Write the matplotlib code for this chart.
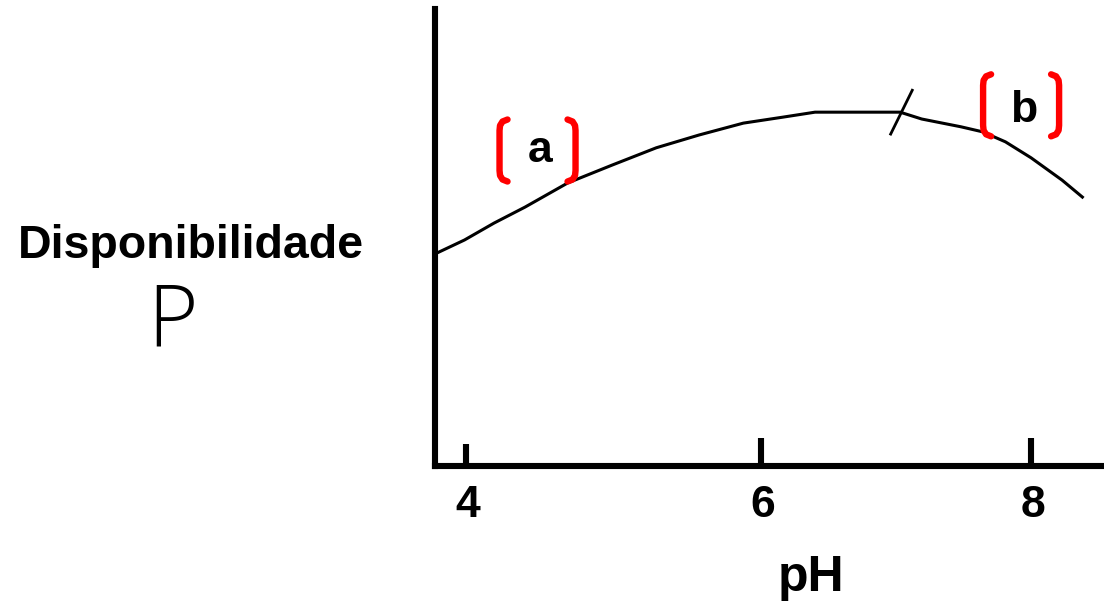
import numpy as np
import matplotlib
matplotlib.use("Agg")
import matplotlib.pyplot as plt
import matplotlib.transforms as mtransforms

# ==============================
# DATOS
# ==============================
ph = [3.80, 3.99, 4.19, 4.40, 4.69, 4.99, 5.29, 5.58, 5.88, 6.16, 6.40,
      7.03, 7.19, 7.48, 7.64, 7.81, 8.00, 8.23, 8.38]
disponibilidad = [46.5, 49.4, 53.1, 56.6, 61.9, 65.8, 69.6, 72.4, 75.0, 76.3, 77.4,
                  77.4, 75.9, 74.2, 73.1, 70.9, 67.4, 62.5, 58.8]

# marca de corte sobre la curva
corte_ph = [6.96, 7.12]
corte_disp = [72.6, 82.2]

# etiquetas entre paréntesis
etiquetas = ["a", "b"]
etiqueta_ph = [4.485, 7.926]
etiqueta_disp = [69.0, 78.9]

ticks_ph = [4, 6, 8]

# ==============================
# ESCALA X (dibujo a mano: los intervalos no son iguales)
# ==============================
knots_ph = [2, 4, 6, 8, 10]
knots_px = [-295, 0, 295, 565, 835]


def fwd(x):
    return np.interp(x, knots_ph, knots_px)


def inv(v):
    return np.interp(v, knots_px, knots_ph)


fig = plt.figure(figsize=(11.04, 6.02), dpi=100)
W, H = 1104, 602
ax = fig.add_axes([435 / W, 1 - 465.5 / H, (W - 435) / W, (465.5 - 9) / H])
ax.set_xscale("function", functions=(fwd, inv))
ax.set_xlim(3.79, 8.54)
ax.set_ylim(0, 100)

ax.plot(ph, disponibilidad, color="black", lw=2.2, solid_joinstyle="round")
ax.plot(corte_ph, corte_disp, color="black", lw=2.0)

for sp in ["top", "right"]:
    ax.spines[sp].set_visible(False)
for sp in ["left", "bottom"]:
    ax.spines[sp].set_linewidth(4.4)

ax.set_yticks([])
ax.set_xticks(ticks_ph)
ax.set_xticklabels([str(t) for t in ticks_ph])
ax.tick_params(axis="x", direction="in", length=20.5, width=4.4, pad=14,
               labelsize=32)
ax.xaxis.get_major_ticks()[0].tick1line.set_markersize(16)
for lab in ax.get_xticklabels():
    lab.set_fontfamily(["Liberation Sans", "DejaVu Sans"])
    lab.set_fontweight("bold")
    lab.set_transform(lab.get_transform() +
                      mtransforms.ScaledTranslation(0.02, 0, fig.dpi_scale_trans))

ax.set_xlabel("pH", fontsize=36, fontweight="bold",
              family=["Liberation Sans", "DejaVu Sans"])
ax.xaxis.set_label_coords((811 - 435) / (W - 435), -0.195)

ax.set_ylabel("Disponibilidade", rotation=0, fontsize=33.5, fontweight="bold",
              family=["Liberation Sans", "DejaVu Sans"], ha="center", va="baseline")
ax.yaxis.set_label_coords((191 - 435) / (W - 435), (465.5 - 258) / 456.5)

ax.text((172.5 - 435) / (W - 435), (465.5 - 347) / 456.5, "P", transform=ax.transAxes,
        fontsize=62, fontweight=300, family=["Open Sans", "DejaVu Sans"],
        ha="center", va="baseline")

# paréntesis rojos alrededor de las letras (en píxeles respecto al centro)
br_x = np.array([8, 3, 0.5, 0, 0, 0.5, 3, 8]) - 38
br_y = np.array([31, 29, 25, 20, -20, -25, -29, -31])
ajuste = {"a": 11.5, "b": 17}
for txt, x0, y0 in zip(etiquetas, etiqueta_ph, etiqueta_disp):
    cx, cy = ax.transData.transform((x0, y0))
    for lado in (1, -1):
        tr = mtransforms.Affine2D().translate(cx, cy)
        ax.plot(lado * br_x, br_y, color="#ff0000", lw=4.6,
                solid_capstyle="round", transform=tr, clip_on=False)
    tr_txt = mtransforms.offset_copy(ax.transData, fig, x=3, y=-ajuste[txt], units="dots")
    ax.text(x0, y0, txt, transform=tr_txt, fontsize=32, fontweight="bold",
            family=["Liberation Sans", "DejaVu Sans"],
            ha="center", va="baseline")

fig.savefig("out.png", dpi=100)
